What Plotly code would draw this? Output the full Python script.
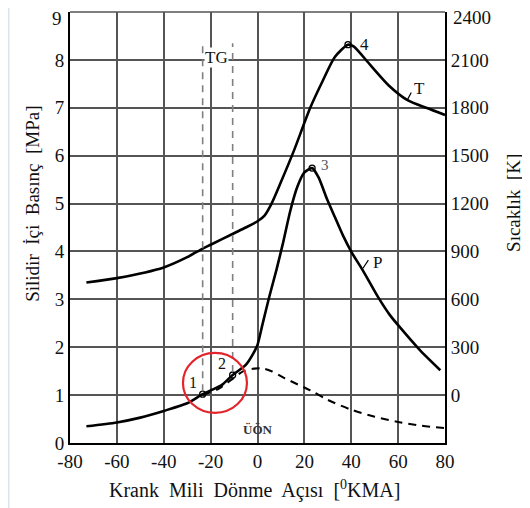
import plotly.graph_objects as go

# Crank angle [deg KMA] and cylinder pressure [MPa]
p_angle = [-73, -60, -50, -40, -30, -23.4, -15, -10.6, -5, -2, 0, 2, 5, 8, 11, 14, 17, 20, 23.3, 26, 29.6, 33, 36.5, 40.3, 45, 51.4, 56.5, 60, 69.3, 78]
p_mpa   = [0.35, 0.43, 0.53, 0.67, 0.83, 1.02, 1.22, 1.42, 1.63, 1.85, 2.05, 2.45, 3.05, 3.6, 4.2, 4.85, 5.35, 5.65, 5.74, 5.55, 5.1, 4.72, 4.33, 3.97, 3.6, 3.05, 2.67, 2.46, 1.94, 1.52]

# Motoring (compression only) pressure [MPa] - dashed
m_angle = [-23.4, -17, -10.6, -6, -2, 2, 6, 11.7, 22.5, 30, 40.3, 50, 60, 70, 80]
m_mpa   = [1.0, 1.12, 1.34, 1.5, 1.55, 1.56, 1.5, 1.35, 1.1, 0.9, 0.69, 0.55, 0.44, 0.36, 0.31]

# Gas temperature [K]
t_angle = [-73, -60, -40, -30, -23.4, -20, -10, -5, 0, 3, 6, 10, 15.5, 22.5, 28, 33, 38.6, 41, 48, 56, 64, 72, 80]
t_k     = [705, 733, 800, 864, 918, 942, 1014, 1050, 1089, 1125, 1200, 1335, 1530, 1800, 1974, 2118, 2195, 2185, 2070, 1940, 1848, 1800, 1755]

# Marked states 1-4
pt_angle = [-23.4, -10.6, 23.3]
pt_mpa   = [1.02, 1.42, 5.74]
pt4_angle = [38.6]
pt4_k     = [2195]

tg_angles = [-23.4, -10.6]
tg_bottom = [1.08, 1.48]

x_ticks = [-80, -60, -40, -20, 0, 20, 40, 60, 80]
p_ticks = [0, 1, 2, 3, 4, 5, 6, 7, 8, 9]
t_ticks = [0, 300, 600, 900, 1200, 1500, 1800, 2100, 2400]

FONT = "Liberation Serif"

fig = go.Figure()

fig.add_trace(go.Scatter(x=m_angle, y=m_mpa, mode="lines",
                         line=dict(color="black", width=2.1, dash="8px,6px", shape="spline", smoothing=0.8),
                         showlegend=False, hoverinfo="skip"))
fig.add_trace(go.Scatter(x=p_angle, y=p_mpa, mode="lines",
                         line=dict(color="black", width=2.6, shape="spline", smoothing=0.7),
                         showlegend=False))
fig.add_trace(go.Scatter(x=t_angle, y=t_k, mode="lines", yaxis="y2",
                         line=dict(color="black", width=2.6, shape="spline", smoothing=0.7),
                         showlegend=False))
fig.add_trace(go.Scatter(x=pt_angle, y=pt_mpa, mode="markers",
                         marker=dict(symbol="circle-open", size=6, color="black", line=dict(width=1.3)),
                         showlegend=False))
fig.add_trace(go.Scatter(x=pt4_angle, y=pt4_k, mode="markers", yaxis="y2",
                         marker=dict(symbol="circle-open", size=6, color="black", line=dict(width=1.3)),
                         showlegend=False))

PW, PH = 375.0, 431.0
ML, MT = 62, 4
shapes = []
# left light strip (as far as the figure can reach)
shapes.append(dict(type="rect", xref="paper", yref="paper", x0=-ML / PW, x1=(-ML + 1.5) / PW, y0=-65 / PH, y1=1 + MT / PH,
                   fillcolor="#dde2ef", line=dict(width=0), layer="below"))
# top border
shapes.append(dict(type="line", xref="paper", yref="paper", x0=0, x1=1, y0=1, y1=1,
                   line=dict(color="#555555", width=1.5)))
# TG dashed vertical lines
for xa, yb in zip(tg_angles, tg_bottom):
    shapes.append(dict(type="line", xref="x", yref="y", x0=xa, x1=xa, y0=yb, y1=8.35,
                       line=dict(color="#808080", width=1.6, dash="7px,6px")))
# red circle
shapes.append(dict(type="circle", xref="x", yref="y", x0=-31.8, x1=-4.5, y0=0.63, y1=1.88,
                   line=dict(color="#e3242b", width=2.2)))
# leaders for T and P labels
shapes.append(dict(type="line", xref="x", yref="y", x0=64.0, x1=65.6, y0=7.17, y1=7.32,
                   line=dict(color="black", width=1.2)))
shapes.append(dict(type="line", xref="x", yref="y", x0=45.0, x1=47.3, y0=3.65, y1=3.82,
                   line=dict(color="black", width=1.2)))

def txt(x, y, s, size=17, color="#111", ref="x"):
    return dict(x=x, y=y, xref=ref, yref=ref.replace("x", "y"), text=s, showarrow=False,
                xanchor="center", yanchor="middle", font=dict(family=FONT, size=size, color=color))

annotations = [
    dict(txt(-17.5, 8.05, "TG"), bgcolor="white", borderpad=0),
    txt(-27.6, 1.27, "1", 16),
    txt(-15.2, 1.66, "2", 16),
    txt(28.6, 5.8, "3", 15, "#555"),
    txt(45.7, 8.32, "4"),
    txt(69.0, 7.4, "T"),
    txt(51.0, 3.77, "P"),
    txt(0.2, 0.29, "<b>ÜÖN</b>", 13, "#333"),
    txt(0.493, -0.109, "Krank  Mili  Dönme  Açısı  [<sup>0</sup>KMA]", 20, ref="paper"),
    dict(txt(-0.0987, 0.555, "Silidir  İçi  Basınç  [MPa]", 19, ref="paper"), textangle=-90),
    dict(txt(1.184, 0.557, "Sıcaklık  [K]", 19, ref="paper"), textangle=-90),
    # top tick labels, nudged down so they stay inside the page (as in the reference)
    dict(x=0, y=p_ticks[-1], xref="paper", yref="y", text=str(p_ticks[-1]), showarrow=False,
         xanchor="right", yanchor="middle", xshift=-6, yshift=-6, font=dict(family=FONT, size=19, color="#111")),
    dict(x=1, y=p_ticks[-1], xref="paper", yref="y", text=str(t_ticks[-1]), showarrow=False,
         xanchor="left", yanchor="middle", xshift=6, yshift=-5, font=dict(family=FONT, size=19, color="#111")),
]

fig.update_layout(
    width=522, height=500,
    margin=dict(l=ML, r=85, t=MT, b=65, autoexpand=False),
    paper_bgcolor="white", plot_bgcolor="white",
    font=dict(family=FONT, size=19, color="#111"),
    xaxis=dict(range=[-80, 80], tickvals=x_ticks, ticktext=[str(v) for v in x_ticks],
               showgrid=True, gridcolor="#555555", gridwidth=1.5, zeroline=False, automargin=False,
               showline=True, linecolor="black", linewidth=2, ticks="", fixedrange=True,
               ticklabeloverflow="allow"),
    yaxis=dict(range=[0, 9], tickvals=p_ticks, ticktext=[str(v) for v in p_ticks[:-1]] + [""],
               showgrid=True, gridcolor="#555555", gridwidth=1.5,
               zeroline=False, showline=True, linecolor="black", linewidth=2, ticks="", automargin=False,
               ticklabeloverflow="allow"),
    yaxis2=dict(range=[-300, 2400], tickvals=t_ticks, ticktext=[str(v) for v in t_ticks[:-1]] + [""],
                overlaying="y", side="right", automargin=False,
                showgrid=False, zeroline=False, showline=True, linecolor="black", linewidth=2, ticks="",
                ticklabeloverflow="allow"),
    shapes=shapes, annotations=annotations, showlegend=False,
)

fig.write_html("out.html")
